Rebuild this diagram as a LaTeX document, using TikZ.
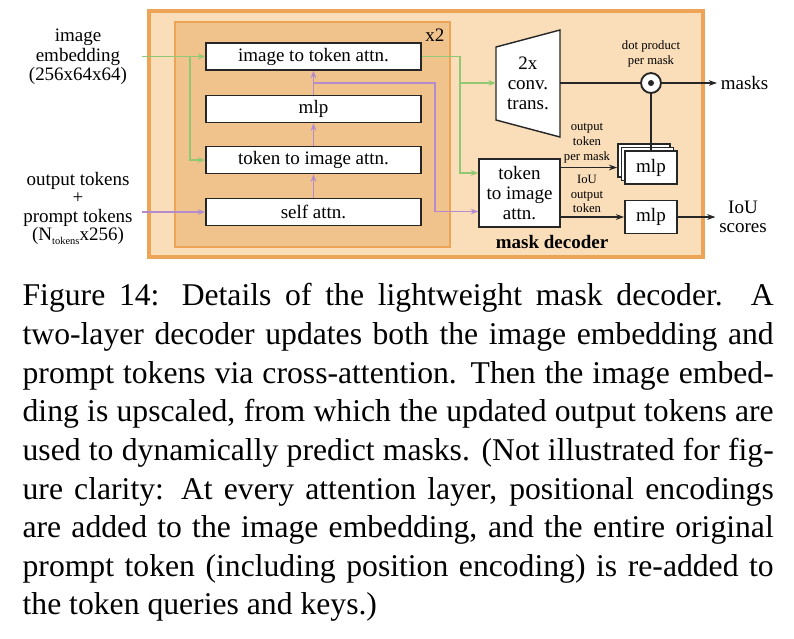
\documentclass[tikz,border=0pt]{standalone}
\usepackage{fontspec}
\setmainfont{Liberation Serif}
\usetikzlibrary{calc,arrows.meta,positioning}
\definecolor{decfill}{RGB}{250,222,186}
\definecolor{loopfill}{RGB}{240,195,140}
\definecolor{decline}{RGB}{237,164,86}
\definecolor{imgline}{RGB}{145,200,115}
\definecolor{tokline}{RGB}{180,140,205}

\begin{document}
\begin{tikzpicture}[x=0.3158pt,y=-0.3158pt]

\tikzstyle{attn}=[draw=black!85,fill=white,line width=0.45pt,minimum width=67.9pt,minimum height=8.5pt,inner sep=0pt,align=center,font=\fontsize{6}{6.3}\selectfont]
\tikzstyle{mlp}=[attn,minimum width=16.5pt,minimum height=10.3pt]
\tikzstyle{annot}=[align=center,inner sep=1pt,font=\fontsize{6}{6.2}\selectfont]
\tikzstyle{small annot}=[align=center,inner sep=0pt,font=\fontsize{4}{4.7}\selectfont]
\tikzstyle{img arrow}=[imgline,line width=0.45pt,-{Stealth[length=2.4pt,width=1.8pt]}]
\tikzstyle{tok arrow}=[tokline,line width=0.45pt,-{Stealth[length=2.4pt,width=1.8pt]}]
\tikzstyle{out line}=[black!85,line width=0.45pt]
\tikzstyle{out arrow}=[out line,-{Stealth[length=2.6pt,width=1.8pt]}]

\useasboundingbox (0,0) rectangle (794,638);

\draw[decline,line width=1pt,fill=decfill] (149,11) rectangle (703,257);
\draw[decline,line width=0.6pt,fill=loopfill] (175,22) rectangle (450,247);

\node[annot] (x2) at (435,35) {x2};
\node[annot,font=\fontsize{6}{7}\selectfont\bfseries] (dec) at (552,242) {mask decoder};

\node[attn] (ita) at (313.5,56.5) {image to token attn.};
\node[attn] (mlp1) at (313.5,109) {mlp};
\node[attn] (tia) at (313.5,160) {token to image attn.};
\node[attn] (sa) at (313.5,212) {self attn.};

\node[annot] (emb) at (78,57) {image\\embedding\\(256x64x64)};
\node[annot,font=\fontsize{6}{5.7}\selectfont] (tok) at (78,208.5) {output tokens\\+\\prompt tokens\\(N\raisebox{-1.3pt}{\fontsize{3.3}{3}\selectfont tokens}x256)};

\coordinate (embout) at (142,56.5);
\coordinate (tokout) at (142,212);
\coordinate (gsplit) at (190,56.5);
\coordinate (gturn) at (460,56.5);
\coordinate (gs2) at (460,83);
\coordinate (psplit) at (313.5,83);
\coordinate (pturn) at (435,83);

\draw[out line,fill=white] (496,47) -- (560,30) -- (560,137) -- (496,120) -- cycle;
\node[annot,font=\fontsize{6}{6.3}\selectfont] (conv) at (528,83) {2x\\conv.\\trans.};
\coordinate (convin) at (496,83);
\coordinate (convout) at (560,83);

\node[circle,draw=black!85,line width=0.6pt,fill=white,minimum size=6.3pt,inner sep=0pt] (dot) at (651,83) {};
\fill[black!85] (dot) circle (0.95pt);
\node[small annot] (dp) at (651,53.5) {dot product\\per mask};

\node[attn,minimum width=25.6pt,minimum height=21.5pt] (tok2) at (519.5,193) {token\\to image\\attn.};

\node[mlp] (mlpb2) at (644,160.5) {};
\node[mlp] (mlpb1) at (647.5,164) {};
\node[mlp] (mlps) at (651,167.5) {mlp};
\node[mlp] (iou) at (651,217) {mlp};

\node[annot,anchor=west] (masks) at (717,83) {masks};
\node[annot] (scores) at (743,217) {IoU\\scores};

\node[small annot] (otl) at (587,143) {output\\token\\per mask};
\node[small annot] (iotl) at (587,194) {IoU\\output\\token};

\draw[img arrow] (embout) -- (ita);
\draw[img arrow] (gsplit) |- (tia);
\draw[img arrow] (ita) -- (gturn) |- ($(tok2.west)+(0,-20)$);
\draw[img arrow] (gs2) -- (convin);

\draw[tok arrow] (tokout) -- (sa);
\draw[tok arrow] (sa) -- (tia);
\draw[tok arrow] (tia) -- (mlp1);
\draw[tok arrow] (mlp1) -- (ita);
\draw[tok arrow] (psplit) -- (pturn) |- ($(tok2.west)+(0,18.5)$);

\draw[out line] (convout) -- (dot);
\draw[out line] (dot) -- (mlps);
\draw[out arrow] (dot) -- (masks);
\draw[out arrow] (tok2.east |- mlps.west) -- (mlps.west -| mlpb2.west);
\draw[out arrow] (tok2.east |- iou.west) -- (iou);
\draw[out arrow] (iou) -- (scores);

\node[anchor=north west,inner sep=0pt,text width=237.2pt,align=justify,font=\fontsize{10}{12.2}\selectfont] (cap) at (22,283) {Figure 14: Details of the lightweight mask decoder.  A\linebreak
two-layer decoder updates both the image embedding and\linebreak
prompt tokens via cross-attention. Then the image embed-\linebreak
ding is upscaled, from which the updated output tokens are\linebreak
used to dynamically predict masks. (Not illustrated for fig-\linebreak
ure clarity: At every attention layer, positional encodings\linebreak
are added to the image embedding, and the entire original\linebreak
prompt token (including position encoding) is re-added to\linebreak
the token queries and keys.)};

\end{tikzpicture}
\end{document}
